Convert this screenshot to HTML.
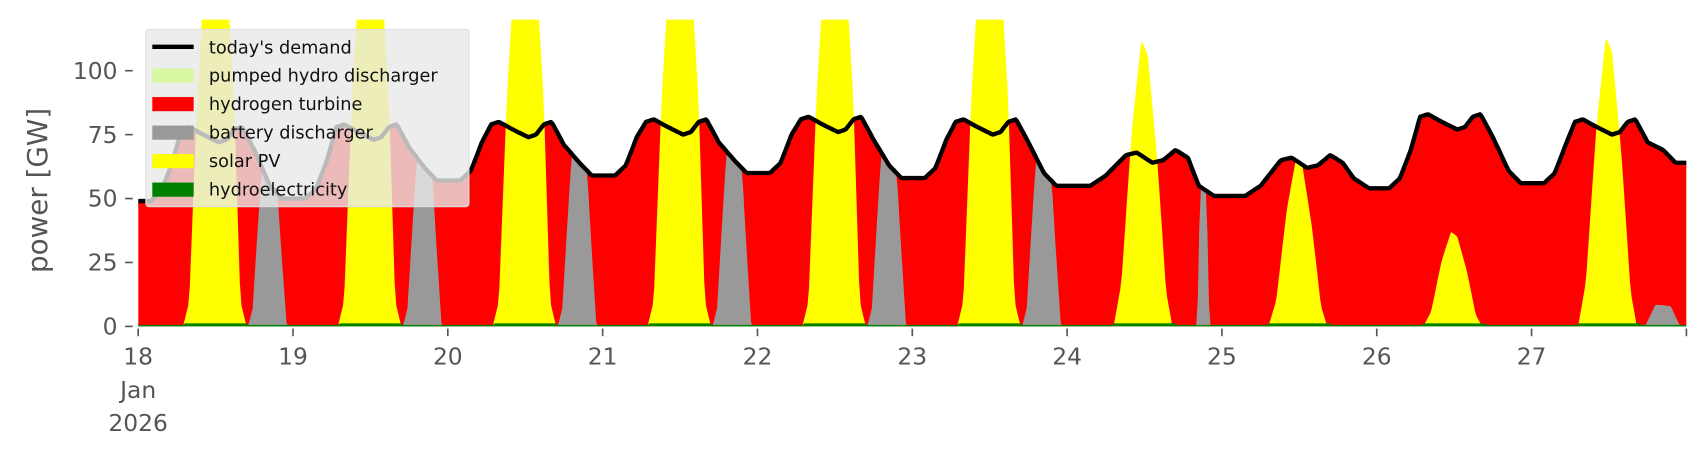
<!DOCTYPE html><html><head><style>body{margin:0;background:#fff}svg{display:block}</style></head><body>
<svg id="s" width="1706" height="460" xmlns="http://www.w3.org/2000/svg" font-family="DejaVu Sans, Liberation Sans, sans-serif">
<defs><clipPath id="c"><rect x="127" y="18" width="1423" height="284"/></clipPath></defs>
<g transform="scale(1.088)">
<g id="plot" clip-path="url(#c)"></g>
<g id="ax"></g>
</g>
</svg>
<script>
const X0=127,DW=142.3,Y0=300,K=2.35;
const px=d=>X0+d*DW, py=v=>Y0-v*K;
const mins=[49,50,57,59,60,58,55,51,54,56,64];
const peaks=[78,79,80,81,82,81,68,66,83,81];
const sol=[160,160,160,160,160,160,112,66,37,113];
const bat=[1,1,1,1,1,1,1,0,0,0.12];
function lerpKF(kf,t){for(let i=0;i<kf.length-1;i++){if(t>=kf[i][0]&&t<=kf[i+1][0]){const a=(t-kf[i][0])/(kf[i+1][0]-kf[i][0]);return kf[i][1]+a*(kf[i+1][1]-kf[i][1]);}}return kf[kf.length-1][1];}
function demand(T){const d=Math.min(9,Math.floor(T)),t=T-d,m0=mins[d],m1=mins[d+1],P=peaks[d];
let kf;
if(d==6||d==7) kf=[[0,m0],[0.15,m0],[0.25,m0+4],[0.38,P-1],[0.45,P],[0.55,P-4],[0.62,P-3],[0.7,P+1],[0.78,P-2],[0.85,m1+4],[0.95,m1],[1,m1]];
else kf=[[0,m0],[0.08,m0],[0.15,m0+4],[0.22,m0+15],[0.28,P-1],[0.33,P],[0.42,P-3],[0.52,P-6],[0.57,P-5],[0.62,P-1],[0.67,P],[0.75,P-9],[0.85,m1+5],[0.93,m1],[1,m1]];
return lerpKF(kf,t);}
function solar(T){const d=Math.floor(T),t=T-d;if(d>9)return 0;const p=sol[d];
if(p<120) return lerpKF([[0,0],[0.3,0],[0.35,p*0.15],[0.42,p*0.7],[0.48,p],[0.52,p*0.95],[0.58,p*0.6],[0.64,p*0.12],[0.68,0],[1,0]],t);
return lerpKF([[0,0],[0.29,0],[0.33,10],[0.38,p*0.55],[0.45,p],[0.55,p],[0.62,p*0.55],[0.66,10],[0.7,0],[1,0]],t);}
function batt(T){const d=Math.floor(T),t=T-d;if(d>9)return 0;const b=bat[d];
const kf=d==6?[[0,0],[0.84,0],[0.86,1],[0.9,1],[0.92,0],[1,0]]:[[0,0],[0.71,0],[0.74,0.1],[0.8,1],[0.9,1],[0.96,0],[1,0]];
return Math.min(demand(T),b*lerpKF(kf,t)*demand(T));}
function hyd(T){const t=T-Math.floor(T);return (t>0.3&&t<0.7)?1.2:0.6;}
const N=960;let dem=[],sp=[],bp=[],hp=[];
for(let i=0;i<=N;i++){const T=i*10/N,x=px(T).toFixed(1);dem.push(x+','+py(demand(T)).toFixed(1));sp.push(x+','+py(solar(T)).toFixed(1));bp.push(x+','+py(batt(T)).toFixed(1));hp.push(x+','+py(hyd(T)).toFixed(1));}
const base=`L${px(10)},${Y0} L${px(0)},${Y0} Z`;
const g=document.getElementById('plot');
g.innerHTML=`<path d="M${dem.join(' L')} ${base}" fill="#ff0000"/>
<path d="M${bp.join(' L')} ${base}" fill="#999"/>
<path d="M${sp.join(' L')} ${base}" fill="#ffff00"/>
<path d="M${hp.join(' L')} ${base}" fill="#008000"/>
<polyline points="${dem.join(' ')}" fill="none" stroke="#000" stroke-width="4" stroke-linejoin="round"/>`;
let a='';
[[0,'0'],[25,'25'],[50,'50'],[75,'75'],[100,'100']].forEach(([v,l])=>{const y=py(v);a+=`<line x1="115" x2="122" y1="${y}" y2="${y}" stroke="#555" stroke-width="1.5"/><text x="108" y="${y+7.5}" text-anchor="end" font-size="21.5" fill="#555">${l}</text>`;});
for(let d=0;d<=10;d++){const x=px(d);a+=`<line x1="${x}" x2="${x}" y1="302" y2="309" stroke="#555" stroke-width="1.5"/>`;if(d<10)a+=`<text x="${x}" y="335" text-anchor="middle" font-size="21.5" fill="#555">${18+d}</text>`;}
a+=`<text x="127" y="366" text-anchor="middle" font-size="21.5" fill="#555">Jan</text><text x="127" y="396" text-anchor="middle" font-size="21.5" fill="#555">2026</text>`;
a+=`<text transform="translate(43,175) rotate(-90)" text-anchor="middle" font-size="25.5" fill="#555">power [GW]</text>`;
a+=`<rect x="134" y="27" width="297" height="163" rx="3" fill="#e8e8e8" fill-opacity="0.8" stroke="#ddd"/>`;
a+=`<line x1="140" x2="178" y1="43" y2="43" stroke="#000" stroke-width="4"/><text x="192" y="49" font-size="16.3" fill="#111">today's demand</text>`;
[['#d9f7a0','pumped hydro discharger'],['#ff0000','hydrogen turbine'],['#999','battery discharger'],['#ffff00','solar PV'],['#008000','hydroelectricity']].forEach(([c,l],i)=>{const y=69+i*26.2;a+=`<rect x="140" y="${y-6}" width="38" height="13" fill="${c}"/><text x="192" y="${y+6}" font-size="16.3" fill="#111">${l}</text>`;});
document.getElementById('ax').innerHTML=a;
</script>
</body></html>
